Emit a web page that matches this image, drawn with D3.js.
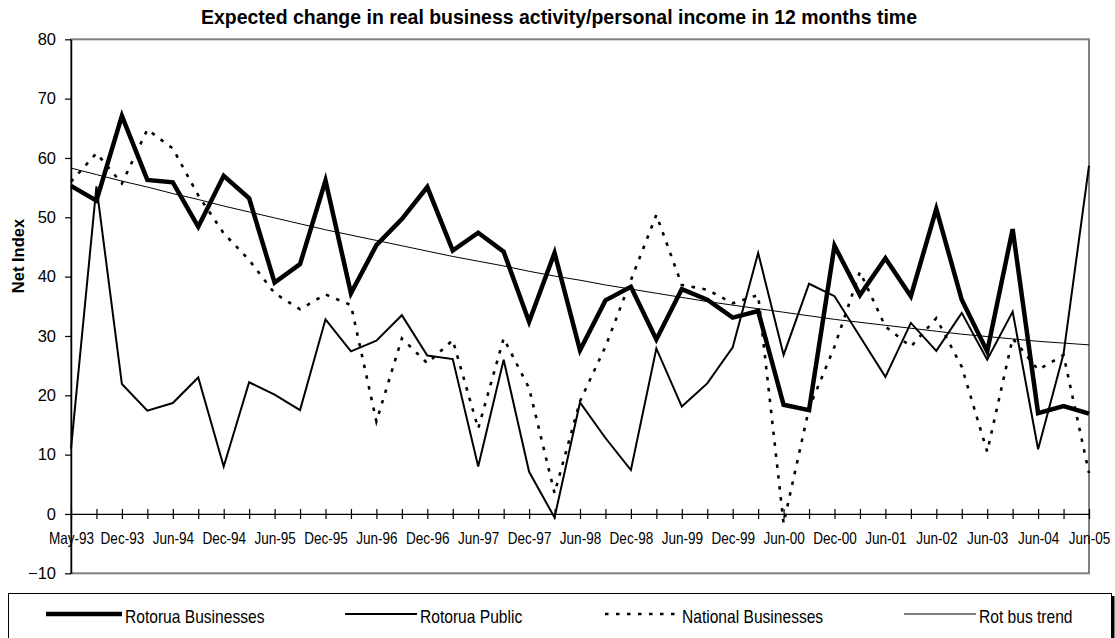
<!DOCTYPE html>
<html>
<head>
<meta charset="utf-8">
<script src="https://cdn.jsdelivr.net/npm/d3@7"></script>
<style>
  body { margin: 0; background: #fff; }
  svg { display: block; }
  text { font-family: 'Liberation Sans', Arial, sans-serif; }
</style>
</head>
<body>
<div id="chart"></div>
<script>
// tick labels (every second category)
const tickLabels = ['May-93', 'Dec-93', 'Jun-94', 'Dec-94', 'Jun-95', 'Dec-95', 'Jun-96', 'Dec-96',
  'Jun-97', 'Dec-97', 'Jun-98', 'Dec-98', 'Jun-99', 'Dec-99', 'Jun-00', 'Dec-00', 'Jun-01',
  'Jun-02', 'Jun-03', 'Jun-04', 'Jun-05']

const rotoruaBusinesses = [55.3, 52.8, 67.1, 56.3, 55.9, 48.4, 57.0, 53.2, 39.0, 42.1,
  56.2, 37.2, 45.3, 49.7, 55.1, 44.4, 47.4, 44.2, 32.4, 44.0,
  27.6, 36.0, 38.3, 29.4, 37.9, 36.1, 33.1, 34.2, 18.4, 17.5,
  45.2, 36.9, 43.1, 36.7, 51.4, 36.1, 27.4, 48.0, 17.0, 18.2, 16.9]

const rotoruaPublic = [11.0, 55.2, 21.9, 17.4, 18.7, 23.0, 8.0, 22.2, 20.1, 17.5,
  32.8, 27.4, 29.2, 33.5, 26.7, 26.1, 8.0, 26.0, 7.1, -0.6,
  18.8, 12.8, 7.4, 27.9, 18.1, 22.0, 28.1, 44.0, 26.8, 38.8,
  36.7, 29.9, 23.1, 32.2, 27.5, 33.9, 26.0, 34.1, 10.9, 27.0, 58.7]

const nationalBusinesses = [56.0, 60.8, 55.7, 64.8, 61.6, 53.7, 47.3, 42.8, 37.2, 34.5,
  37.0, 35.2, 15.6, 29.6, 25.4, 29.3, 14.4, 29.6, 21.2, 3.5,
  19.0, 28.2, 39.4, 50.4, 38.6, 37.8, 35.5, 36.9, -1.6, 17.8,
  28.2, 40.8, 31.6, 28.2, 33.0, 24.8, 10.5, 29.6, 24.3, 26.8, 6.9]

const rotBusTrend = [58.3, 57.2, 56.1, 55.1, 54.0, 53.0, 51.9, 50.9, 49.9, 48.9,
  47.9, 47.0, 46.1, 45.2, 44.3, 43.4, 42.6, 41.8, 40.9, 40.1,
  39.4, 38.6, 37.9, 37.2, 36.5, 35.8, 35.2, 34.6, 34.0, 33.4,
  32.8, 32.3, 31.8, 31.3, 30.8, 30.3, 29.9, 29.5, 29.1, 28.8, 28.5]

const yTicks = [-10, 0, 10, 20, 30, 40, 50, 60, 70, 80]

const seriesNames = ['Rotorua Businesses', 'Rotorua Public', 'National Businesses', 'Rot bus trend']

const W = 1115
const H = 638
const plot = { left: 71, right: 1089, top: 39.3, bottom: 573.3 }

// no Arial Narrow here, so squeeze regular text to a narrow width
const narrow = (sel, factor = 0.82) =>
  sel.each(function () {
    const w = this.getComputedTextLength()
    if (w > 0) d3.select(this).attr('textLength', w * factor).attr('lengthAdjust', 'spacingAndGlyphs')
  })

const svg = d3.select('#chart').append('svg').attr('width', W).attr('height', H)

const x = d3.scalePoint().domain(d3.range(rotoruaBusinesses.length)).range([plot.left, plot.right])
const y = d3.scaleLinear().domain([-10, 80]).range([plot.bottom, plot.top])

// plot area border
svg.append('rect')
  .attr('x', plot.left).attr('y', plot.top)
  .attr('width', plot.right - plot.left).attr('height', plot.bottom - plot.top)
  .attr('fill', 'none').attr('stroke', '#808080').attr('stroke-width', 2)

// title
svg.append('text')
  .attr('x', 559).attr('y', 24)
  .attr('text-anchor', 'middle')
  .attr('font-size', 19.5).attr('font-weight', 'bold')
  .attr('textLength', 716).attr('lengthAdjust', 'spacingAndGlyphs')
  .text('Expected change in real business activity/personal income in 12 months time')

// y axis
const yAxis = svg.append('g')
  .attr('transform', `translate(${plot.left},0)`)
  .call(d3.axisLeft(y).tickValues(yTicks).tickSizeInner(6).tickSizeOuter(0).tickPadding(9))
yAxis.select('.domain').attr('stroke', '#000').attr('stroke-width', 1.5)
yAxis.selectAll('.tick line').attr('stroke', '#000').attr('stroke-width', 1.2)
yAxis.selectAll('.tick text')
  .attr('font-family', 'Liberation Sans, Arial, sans-serif')
  .attr('font-size', 16.5).attr('fill', '#000')

svg.append('text')
  .attr('transform', 'translate(24,256) rotate(-90)')
  .attr('text-anchor', 'middle')
  .attr('font-size', 16.5).attr('font-weight', 'bold')
  .text('Net Index')

// x axis at zero
const xAxis = svg.append('g')
  .attr('transform', `translate(0,${y(0)})`)
  .call(d3.axisBottom(x)
    .tickSizeInner(5).tickSizeOuter(0)
    .tickFormat((i) => (i % 2 === 0 ? tickLabels[i / 2] : '')))
xAxis.select('.domain').attr('stroke', '#000').attr('stroke-width', 1.2)
xAxis.selectAll('.tick line').attr('y1', -5).attr('stroke', '#000').attr('stroke-width', 1.2)
xAxis.selectAll('.tick text')
  .attr('font-family', 'Liberation Sans, Arial, sans-serif')
  .attr('font-size', 16.5)
  .attr('fill', '#000')
  .attr('y', 18)
  .call(narrow)

// lines
const line = d3.line().x((d, i) => x(i)).y((d) => y(d))

const styles = [
  { data: rotoruaBusinesses, width: 4.5, dash: null },
  { data: rotoruaPublic, width: 2, dash: null },
  { data: nationalBusinesses, width: 2.6, dash: '3.5,7.5' },
  { data: rotBusTrend, width: 1, dash: null },
]

styles.forEach((s) => {
  svg.append('path')
    .datum(s.data)
    .attr('d', line)
    .attr('fill', 'none')
    .attr('stroke', '#000')
    .attr('stroke-width', s.width)
    .attr('stroke-linejoin', 'miter')
    .attr('stroke-dasharray', s.dash)
})

// legend
const legend = svg.append('g')
legend.append('rect')
  .attr('x', 8.5).attr('y', 593.5).attr('width', 1103).attr('height', 60)
  .attr('fill', '#fff').attr('stroke', '#000').attr('stroke-width', 1)
legend.append('line')
  .attr('x1', 1113).attr('x2', 1113).attr('y1', 596).attr('y2', H)
  .attr('stroke', '#000').attr('stroke-width', 3)

const legendX = [125, 420, 682, 979]
const legendLen = [76, 72, 74, 72]
seriesNames.forEach((name, k) => {
  const s = styles[k]
  legend.append('line')
    .attr('x1', legendX[k] - 3 - legendLen[k]).attr('x2', legendX[k] - 3)
    .attr('y1', 614).attr('y2', 614)
    .attr('stroke', '#000').attr('stroke-width', s.width)
    .attr('stroke-dasharray', s.dash)
  legend.append('text')
    .attr('x', legendX[k]).attr('y', 623)
    .attr('font-size', 19)
    .text(name)
    .call(narrow)
})
</script>
</body>
</html>
